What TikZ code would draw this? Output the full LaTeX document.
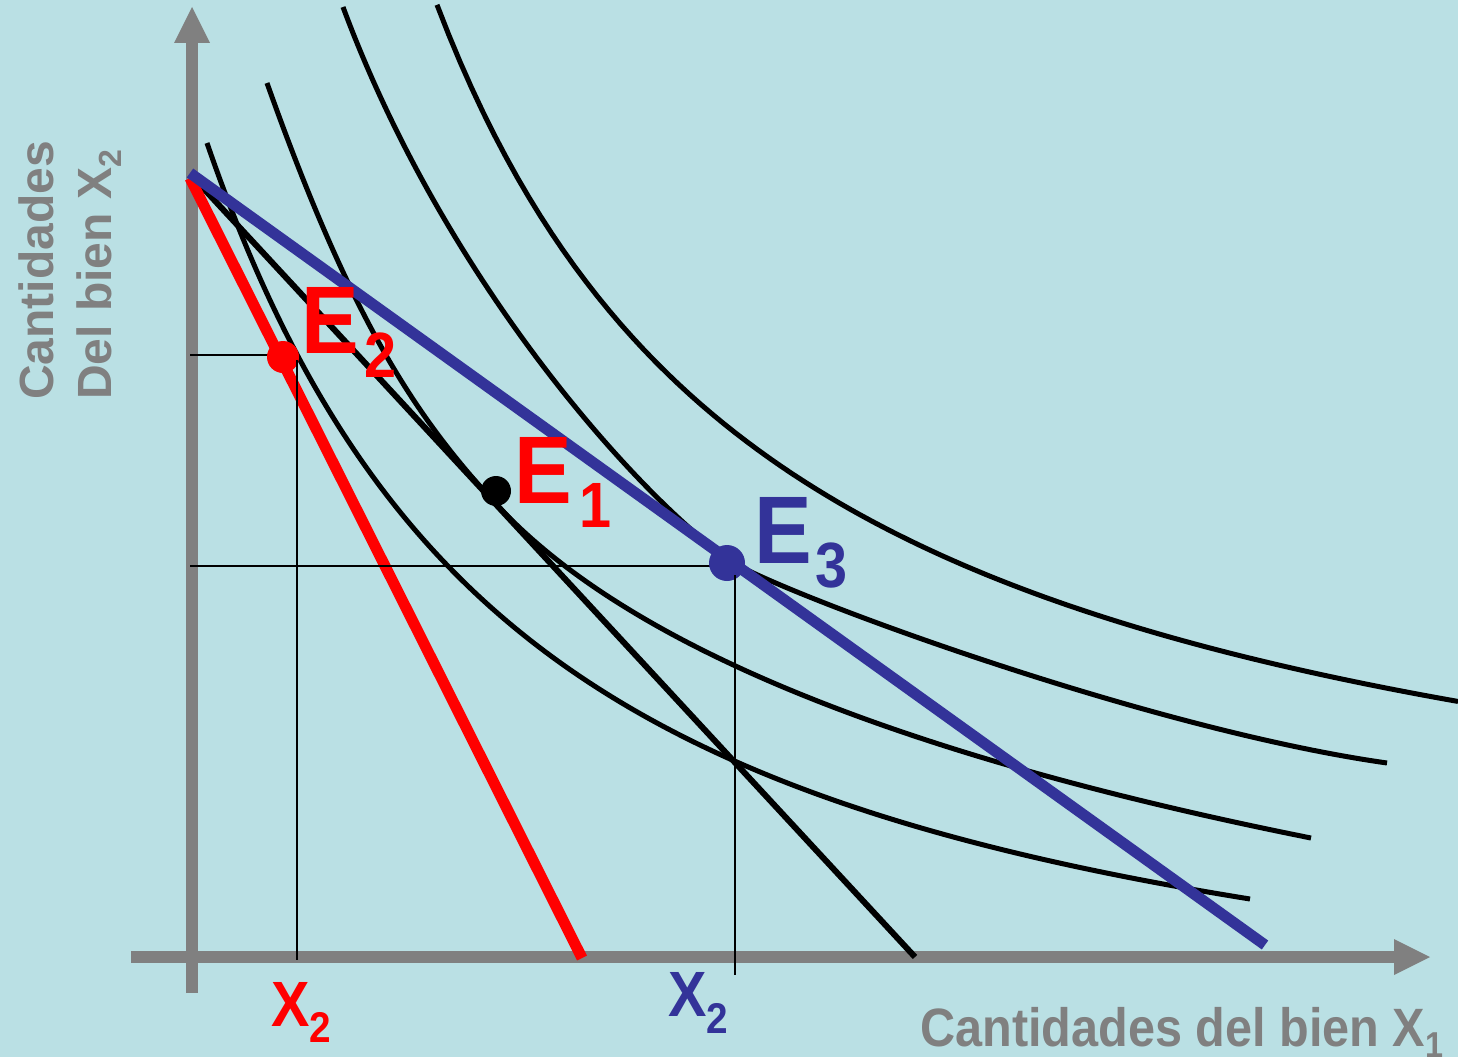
\documentclass[tikz,border=0pt]{standalone}
\usepackage{fontspec}
\setmainfont{Liberation Sans}
\usepackage{graphicx}
\definecolor{bg}{RGB}{186,224,228}
\definecolor{axgray}{RGB}{128,128,128}
\definecolor{dblue}{RGB}{51,51,153}
\definecolor{lred}{RGB}{255,0,0}
\begin{document}
\begin{tikzpicture}[x=1pt,y=-1pt,
  axisline/.style={axgray,line width=12pt},
  axistip/.style={fill=axgray,draw=none},
  icurve/.style={black,line width=5pt},
  budget/.style={line width=#1},
  guide/.style={black,line width=2pt},
  dotmark/.style={circle,inner sep=0pt,minimum size=#1},
  biglab/.style={anchor=base west,inner sep=0pt,font=\bfseries\fontsize{96}{96}\selectfont},
  xlab/.style={anchor=base west,inner sep=0pt,font=\bfseries\fontsize{64}{64}\selectfont},
  axlab/.style={anchor=base west,inner sep=0pt,text=axgray,font=\bfseries\fontsize{#1}{#1}\selectfont}]
\fill[bg] (0,0) rectangle (1458,1057);
\useasboundingbox (0,0) rectangle (1458,1057);

% axes
\coordinate (ybot) at (192,993);
\coordinate (ytop) at (192,40);
\coordinate (xleft) at (131,957);
\coordinate (xright) at (1398,957);
\draw[axisline] (ybot) -- (ytop);
\fill[axistip] (174,43) -- (210,43) -- (192,7) -- cycle;
\draw[axisline] (xleft) -- (xright);
\fill[axistip] (1394,939) -- (1394,975) -- (1430,957) -- cycle;

% indifference curves
\coordinate (a0) at (207,143);
\coordinate (a1) at (1250,899);
\draw[icurve] (a0) .. controls (371,619) and (636,800) .. (a1);
\coordinate (c0) at (267,83);
\coordinate (cT) at (497,505);
\coordinate (c1) at (1311,838);
\draw[icurve] (c0) .. controls (353,325) and (418,420) .. (cT)
  .. controls (637,656) and (931,762) .. (c1);
\coordinate (d0) at (343,7);
\coordinate (dT) at (729,560);
\coordinate (d1) at (1387,763);
\draw[icurve] (d0) .. controls (445,282) and (638,495) .. (dT)
  .. controls (768,588) and (1140,728) .. (d1);
\draw[icurve] plot[domain=437:1458,samples=90] (\x,{945-338/((\x-80)*0.001)});

% budget lines
\coordinate (b0) at (192,176);
\coordinate (b1) at (915,957);
\coordinate (r0) at (190,178);
\coordinate (r1) at (582,958);
\coordinate (u0) at (190,173);
\coordinate (u1) at (1265,945);
\draw[budget=6pt,black] (b0) -- (b1);
\draw[budget=11pt,lred] (r0) -- (r1);
\draw[budget=11pt,dblue] (u0) -- (u1);

% guide lines
\coordinate (h2a) at (190,355);
\coordinate (h2b) at (283,355);
\coordinate (v2a) at (297,360);
\coordinate (v2b) at (297,960);
\coordinate (h3a) at (190,566);
\coordinate (h3b) at (718,566);
\coordinate (v3a) at (735,575);
\coordinate (v3b) at (735,975);
\draw[guide] (h2a) -- (h2b);
\draw[guide] (h3a) -- (h3b);

% equilibrium points
\node[dotmark=32pt,fill=lred] (E2) at (283,357) {};
\node[dotmark=30pt,fill=black] (E1) at (496,491) {};
\node[dotmark=36pt,fill=dblue] (E3) at (727,563) {};
\draw[guide] (v2a) -- (v2b);
\draw[guide] (v3a) -- (v3b);

% labels
\node[biglab,text=lred] (lE2) at (301,353) {\scalebox{0.9}[1]{E\hspace{6pt}\raisebox{-24pt}{\fontsize{64}{64}\selectfont 2}}};
\node[biglab,text=lred] (lE1) at (514,503) {\scalebox{0.9}[1]{E\hspace{8pt}\raisebox{-24pt}{\fontsize{64}{64}\selectfont 1}}};
\node[biglab,text=dblue] (lE3) at (754,563) {\scalebox{0.9}[1]{E\hspace{4pt}\raisebox{-24pt}{\fontsize{64}{64}\selectfont 3}}};
\node[xlab,text=lred] (lx2a) at (271,1026) {\scalebox{0.9}[1]{X\raisebox{-16pt}{\fontsize{43}{43}\selectfont 2}}};
\node[xlab,text=dblue] (lx2b) at (668,1016) {\scalebox{0.9}[1]{X\raisebox{-17pt}{\fontsize{43}{43}\selectfont 2}}};
\node[axlab=54] (lxaxis) at (920,1046) {\scalebox{0.9}[1]{Cantidades del bien X\raisebox{-11pt}{\fontsize{36}{36}\selectfont 1}}};
\node[axlab=48,rotate=90] (lyaxis1) at (53,400) {Cantidades};
\node[axlab=48,rotate=90] (lyaxis2) at (111,400) {Del bien X\raisebox{-10pt}{\fontsize{32}{32}\selectfont 2}};
\end{tikzpicture}
\end{document}
